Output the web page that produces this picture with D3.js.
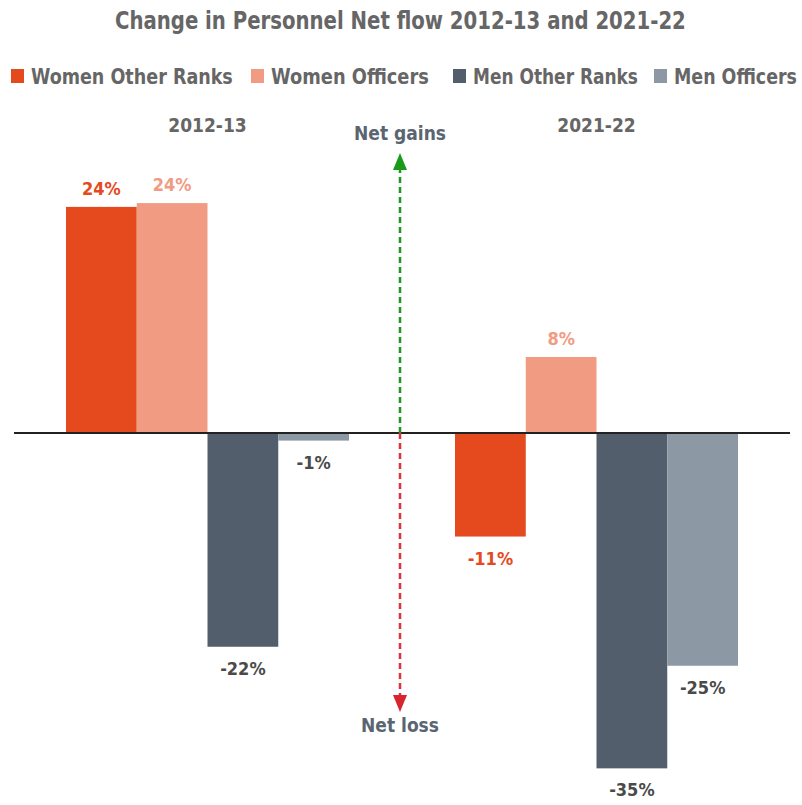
<!DOCTYPE html>
<html>
<head>
<meta charset="utf-8">
<script src="https://cdn.jsdelivr.net/npm/d3@7"></script>
<style>
  body { margin: 0; background: #fff; }
  text { font-family: "DejaVu Sans Condensed", "DejaVu Sans", sans-serif; font-stretch: condensed; font-weight: bold; }
</style>
</head>
<body>
<svg id="chart" width="802" height="805"></svg>
<script>
var periods = ['2012-13', '2021-22'];
var series = ['Women Other Ranks', 'Women Officers', 'Men Other Ranks', 'Men Officers'];
var colors = ['#e44a1e', '#f19b83', '#525e6b', '#8c99a5'];
var labelColors = ['#e44a1e', '#f19b83', '#4a4a4a', '#4a4a4a'];
// values per period, in series order (% change)
var values2012 = [23.8, 24.2, -22.5, -0.8];
var values2021 = [-10.9, 8.0, -35.3, -24.5];
var labels2012 = ['24%', '24%', '-22%', '-1%'];
var labels2021 = ['-11%', '8%', '-35%', '-25%'];

var _svg = d3.select('#chart'),
    _width = 802;

// squeeze a text horizontally so it spans w pixels from x
var _fitText = function(sel, x, w){
    sel.each(function(){
        var nat = this.getComputedTextLength();
        var k = w / nat;
        d3.select(this).attr('x', 0)
            .attr('transform', 'translate(' + x + ',0) scale(' + k + ',1)');
    });
};

var data = [];
periods.forEach(function(p, i){
    var vals = i === 0 ? values2012 : values2021;
    var labs = i === 0 ? labels2012 : labels2021;
    series.forEach(function(s, j){
        data.push({ period: p, series: s, idx: j, value: vals[j], label: labs[j] });
    });
});

var x0 = d3.scaleBand().domain(periods).range([13, 791]);
var x1 = d3.scaleBand().domain(series).range([53, x0.bandwidth() - 53]);
var y = d3.scaleLinear().domain([-40, 30]).range([813, 148]);

// title
_svg.append('text')
    .attr('y', 29)
    .attr('font-size', 24).attr('fill', '#666')
    .text('Change in Personnel Net flow 2012-13 and 2021-22')
    .call(_fitText, 115, 571);

// legend (square x, label width)
var legend = _svg.append('g').attr('transform', 'translate(0,76)');
var lx = [11, 251, 453, 654];
var lw = [202, 158, 165, 123];
var items = legend.selectAll('g.item').data(series).enter().append('g')
    .attr('class', 'item')
    .attr('transform', function(d, i){ return 'translate(' + lx[i] + ',0)'; });
items.append('rect').attr('x', 0).attr('y', -7).attr('width', 13).attr('height', 14)
    .attr('fill', function(d, i){ return colors[i]; });
items.append('text').attr('y', 8)
    .attr('font-size', 21).attr('fill', '#666')
    .text(function(d){ return d; })
    .each(function(d, i){ _fitText(d3.select(this), 20, lw[i]); });

// period labels
_svg.selectAll('.period').data(periods).enter().append('text')
    .attr('class', 'period')
    .attr('x', function(d){ return x0(d) + x0.bandwidth() / 2; })
    .attr('y', 132)
    .attr('text-anchor', 'middle')
    .attr('font-size', 19).attr('fill', '#666')
    .text(function(d){ return d; });

// bars
_svg.selectAll('.bar').data(data).enter().append('rect')
    .attr('class', 'bar')
    .attr('x', function(d){ return x0(d.period) + x1(d.series); })
    .attr('width', x1.bandwidth())
    .attr('y', function(d){ return y(Math.max(0, d.value)); })
    .attr('height', function(d){ return Math.abs(y(d.value) - y(0)); })
    .attr('fill', function(d){ return colors[d.idx]; });

// value labels
_svg.selectAll('.val').data(data).enter().append('text')
    .attr('class', 'val')
    .attr('x', function(d){ return x0(d.period) + x1(d.series) + x1.bandwidth() / 2; })
    .attr('y', function(d){ return d.value >= 0 ? y(d.value) - 12 : y(d.value) + 28; })
    .attr('text-anchor', 'middle')
    .attr('font-size', 18)
    .attr('fill', function(d){ return labelColors[d.idx]; })
    .text(function(d){ return d.label; });

// zero line
_svg.append('line')
    .attr('x1', 14).attr('x2', 790)
    .attr('y1', y(0)).attr('y2', y(0))
    .attr('stroke', '#222').attr('stroke-width', 2);

// net gains / net loss arrows
var ax = 400;
_svg.append('line')
    .attr('x1', ax).attr('x2', ax).attr('y1', y(0)).attr('y2', 168)
    .attr('stroke', '#1a9a1a').attr('stroke-width', 2.5).attr('stroke-dasharray', '6,4');
_svg.append('path')
    .attr('d', 'M' + (ax - 7) + ',170 L' + ax + ',153 L' + (ax + 7) + ',170 Z')
    .attr('fill', '#1a9a1a');
_svg.append('line')
    .attr('x1', ax).attr('x2', ax).attr('y1', y(0)).attr('y2', 697)
    .attr('stroke', '#e03040').attr('stroke-width', 2.5).attr('stroke-dasharray', '6,4');
_svg.append('path')
    .attr('d', 'M' + (ax - 7) + ',695 L' + ax + ',712 L' + (ax + 7) + ',695 Z')
    .attr('fill', '#d8242e');

_svg.append('text').attr('x', ax).attr('y', 140).attr('text-anchor', 'middle')
    .attr('font-size', 19).attr('fill', '#5a6570').text('Net gains');
_svg.append('text').attr('x', ax).attr('y', 732).attr('text-anchor', 'middle')
    .attr('font-size', 19).attr('fill', '#5a6570').text('Net loss');
</script>
</body>
</html>
